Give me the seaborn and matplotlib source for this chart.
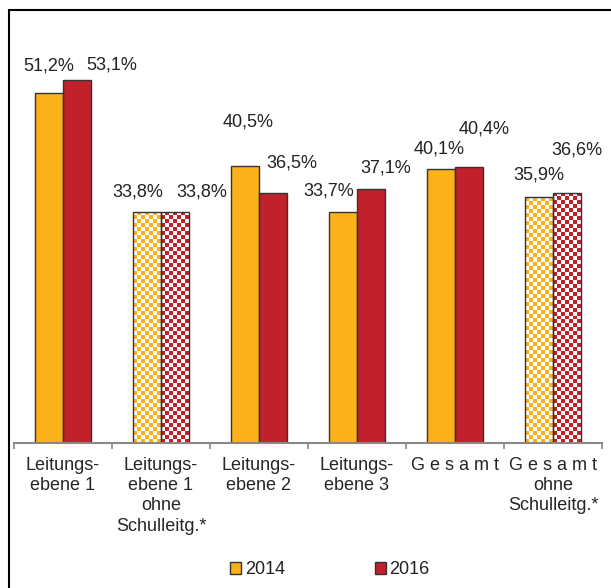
import matplotlib
matplotlib.use("Agg")
import matplotlib.pyplot as plt
from matplotlib.patches import Patch
from matplotlib.colors import to_rgb
import seaborn as sns
import numpy as np
import pandas as pd

categories = ["Leitungs-\nebene 1", "Leitungs-\nebene 1\nohne\nSchulleitg.*",
              "Leitungs-\nebene 2", "Leitungs-\nebene 3", "G e s a m t",
              "G e s a m t\nohne\nSchulleitg.*"]
years = ["2014", "2016"]
values_2014 = [51.2, 33.8, 40.5, 33.7, 40.1, 35.9]
values_2016 = [53.1, 33.8, 36.5, 37.1, 40.4, 36.6]
checkered = [False, True, False, False, False, True]

colors = ["#FBB21A", "#C1212A"]
# manual label placement (pixels from bar top centre), like the dragged excel labels
label_off = {
    "2014": [(0, 27), (-9, 20), (3, 44), (-14, 21), (-2, 20), (0, 22)],
    "2016": [(35, 15), (27, 20), (19, 30), (15, 21), (15, 38), (10, 43)],
}

df = pd.DataFrame({
    "cat": categories * 2,
    "year": [years[0]] * 6 + [years[1]] * 6,
    "val": values_2014 + values_2016,
})

sns.set_style("white")
plt.rcParams["font.family"] = ["Liberation Sans", "DejaVu Sans"]
plt.rcParams["text.color"] = "#222222"

fig = plt.figure(figsize=(6.11, 5.88), dpi=100)
ax = fig.add_axes([14 / 611, 145 / 588, 588 / 611, 410.4 / 588])

sns.barplot(data=df, x="cat", y="val", hue="year", palette=colors,
            width=0.57, edgecolor="#333333", linewidth=1.0, ax=ax,
            legend=False, saturation=1)

ax.set_xlim(-0.5, 5.5)
ax.set_ylim(0, 60)

# checkerboard fill for the "ohne Schulleitung" bars
for ci, cont in enumerate(ax.containers):
    rgb = np.array(to_rgb(colors[ci]))
    for i, bar in enumerate(cont.patches):
        if not checkered[i]:
            continue
        x0, w, h = bar.get_x(), bar.get_width(), bar.get_height()
        nx = 7
        ny = int(round(h * 6.84 / 4))
        yy, xx = np.mgrid[0:ny, 0:nx]
        mask = (xx + yy) % 2 == 0
        img = np.ones((ny, nx, 3))
        img[mask] = rgb
        bar.set_facecolor("white")
        im = ax.imshow(img, extent=(x0, x0 + w, 0, h), origin="lower",
                       aspect="auto", interpolation="nearest", zorder=bar.get_zorder())
        im.set_clip_path(bar)
        bar.set_zorder(bar.get_zorder() + 0.1)
        bar.set_facecolor("none")

ax.set_xlim(-0.5, 5.5)
ax.set_ylim(0, 60)

for ci, cont in enumerate(ax.containers):
    for i, bar in enumerate(cont.patches):
        v = bar.get_height()
        dx, dy = label_off[years[ci]][i]
        ax.annotate(f"{v:.1f}".replace(".", ",") + "%",
                    (bar.get_x() + bar.get_width() / 2, v),
                    xytext=(dx, dy), textcoords="offset pixels",
                    ha="center", va="center", fontsize=13, color="#222222")

# ticks at category boundaries, labels at centres
ax.set_xticks(np.arange(-0.5, 6.0, 1.0))
ax.set_xticklabels([])
ax.set_xticks(np.arange(6), minor=True)
ax.set_xticklabels(categories, minor=True, fontsize=13, linespacing=1.25)
ax.tick_params(axis="x", which="major", length=4, width=1.2, color="#888888",
               bottom=True, direction="out")
ax.tick_params(axis="x", which="minor", length=0, pad=10)
ax.set_yticks([])
ax.set_xlabel("")
ax.set_ylabel("")
for s in ["top", "right", "left"]:
    ax.spines[s].set_visible(False)
ax.spines["bottom"].set_color("#888888")
ax.spines["bottom"].set_linewidth(1.5)

handles = [Patch(facecolor=c, edgecolor="#333333", linewidth=1) for c in colors]
fig.legend(handles, years, loc="center", bbox_to_anchor=(330 / 611, 18 / 588),
           ncol=2, frameon=False, fontsize=13, handlelength=0.6, handleheight=0.6,
           handletextpad=0.2, columnspacing=5.0)

# outer frame (only left and top edges visible in the crop)
fig.add_artist(plt.Line2D([9 / 611, 9 / 611], [0, 1 - 10 / 588], color="black",
                          lw=1.5, transform=fig.transFigure))
fig.add_artist(plt.Line2D([9 / 611, 1], [1 - 10 / 588, 1 - 10 / 588], color="black",
                          lw=1.5, transform=fig.transFigure))

fig.savefig("out.png", dpi=100)
